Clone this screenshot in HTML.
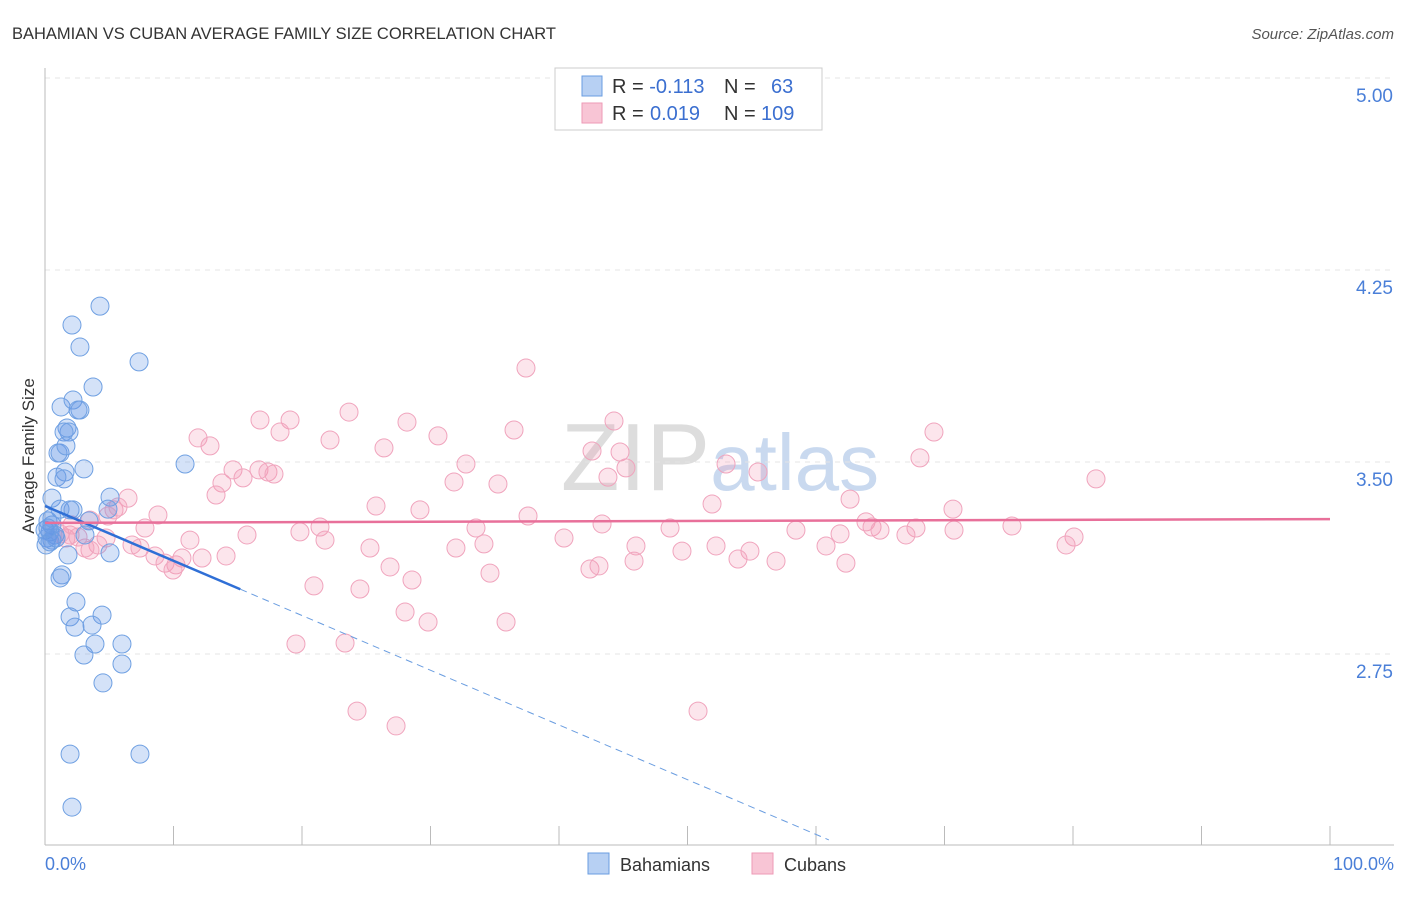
<!DOCTYPE html>
<html><head><meta charset="utf-8"><style>
body{margin:0;background:#fff;font-family:"Liberation Sans",sans-serif}
svg text{font-family:"Liberation Sans",sans-serif}
</style></head><body>
<svg width="1406" height="892" xmlns="http://www.w3.org/2000/svg">
<text x="12" y="39" font-size="16.5" fill="#333">BAHAMIAN VS CUBAN AVERAGE FAMILY SIZE CORRELATION CHART</text>
<text x="1394" y="39" font-size="15" fill="#555" font-style="italic" text-anchor="end">Source: ZipAtlas.com</text>
<text x="720" y="490" font-size="96" fill="#ddd" text-anchor="middle" font-family="Liberation Serif">ZIP<tspan fill="#c9d9ef" font-family="Liberation Sans" font-size="80">atlas</tspan></text>
<g id="grid"></g>
<g id="axes"></g>
<g id="pts"></g>
<g id="lines"></g>
<text transform="translate(34,456) rotate(-90)" font-size="17" fill="#333" text-anchor="middle">Average Family Size</text>
<text x="45" y="870" font-size="18" fill="#4a7fd8">0.0%</text>
<text x="1394" y="870" font-size="18" fill="#4a7fd8" text-anchor="end">100.0%</text>
<g>
<rect x="555" y="68" width="267" height="62" fill="#fff" stroke="#ccc"/>
<rect x="582" y="76" width="20" height="20" fill="#b7d0f3" stroke="#6a9de0"/>
<rect x="582" y="103" width="20" height="20" fill="#f8c5d5" stroke="#ee9ab6"/>
<text x="612" y="93" font-size="20" fill="#333">R = <tspan fill="#3b6fd0">-0.113</tspan><tspan x="724">N =</tspan><tspan x="771" fill="#3b6fd0">63</tspan></text>
<text x="612" y="120" font-size="20" fill="#333">R = <tspan x="650" fill="#3b6fd0">0.019</tspan><tspan x="724">N =</tspan><tspan x="761" fill="#3b6fd0">109</tspan></text>
</g>
<g>
<rect x="588" y="853" width="21" height="21" fill="#b7d0f3" stroke="#6a9de0"/>
<text x="620" y="871" font-size="18" fill="#333">Bahamians</text>
<rect x="752" y="853" width="21" height="21" fill="#f8c5d5" stroke="#ee9ab6"/>
<text x="784" y="871" font-size="18" fill="#333">Cubans</text>
</g>
</svg>
<script>
const yTicks=[5.00,4.25,3.50,2.75];
const xTickCount=10;
const bahX=[4.28,2.1,2.72,7.32,3.74,1.25,2.18,2.72,2.57,1.71,1.87,1.48,1.01,1.17,1.63,3.03,1.56,0.93,1.48,10.9,5.06,0.54,1.17,2.18,1.95,4.9,3.42,0.23,0.54,0,0.39,0.78,0.16,0.54,3.11,5.06,1.79,1.32,1.17,1.95,2.41,4.44,2.33,3.66,5.99,3.89,3.03,5.99,4.51,1.95,7.39,2.1,0.08,0.39,0.86,0.23,0.54];
const bahY=[4.109,4.035,3.949,3.891,3.793,3.715,3.742,3.703,3.703,3.633,3.617,3.617,3.535,3.535,3.563,3.473,3.461,3.441,3.434,3.492,3.363,3.359,3.316,3.313,3.313,3.316,3.27,3.27,3.254,3.234,3.227,3.215,3.203,3.195,3.215,3.145,3.137,3.059,3.047,2.895,2.953,2.902,2.855,2.863,2.789,2.789,2.746,2.711,2.637,2.359,2.359,2.152,3.176,3.188,3.203,3.242,3.281];
const cubX=[37.43,16.73,19.07,23.66,28.17,44.28,69.18,11.91,18.29,22.18,30.58,36.5,12.84,26.38,42.57,44.75,32.76,53.0,55.49,68.09,14.63,16.65,17.35,17.82,15.41,13.77,31.83,35.25,43.81,45.21,81.79,13.31,6.46,8.79,5.37,5.68,51.91,62.65,25.76,29.18,70.66,37.59,3.5,4.9,7.78,21.4,19.84,33.54,43.35,48.64,58.44,63.89,64.36,64.98,70.74,67.78,61.87,75.25,15.72,11.28,21.79,40.39,4.75,1.63,1.95,1.17,6.77,4.12,3.5,7.39,25.29,31.98,34.16,45.99,49.57,52.22,54.86,60.78,67.0,80.08,79.46,8.56,10.66,12.22,14.09,9.34,10.19,9.96,26.85,42.41,43.11,45.84,53.93,56.89,62.33,34.63,28.56,20.93,24.51,28.02,29.81,35.88,19.53,23.35,24.28,27.32,50.82,3.11,2.57,2.1];
const cubY=[3.867,3.664,3.664,3.695,3.656,3.660,3.617,3.594,3.617,3.586,3.602,3.625,3.563,3.555,3.543,3.539,3.492,3.492,3.461,3.516,3.469,3.469,3.461,3.453,3.438,3.418,3.422,3.414,3.441,3.477,3.434,3.371,3.359,3.293,3.313,3.324,3.336,3.355,3.328,3.313,3.316,3.289,3.273,3.289,3.242,3.246,3.227,3.242,3.258,3.242,3.234,3.266,3.246,3.234,3.234,3.242,3.219,3.25,3.215,3.195,3.195,3.203,3.203,3.203,3.215,3.219,3.176,3.176,3.156,3.164,3.164,3.164,3.18,3.172,3.152,3.172,3.152,3.172,3.215,3.207,3.176,3.133,3.125,3.125,3.133,3.105,3.098,3.078,3.09,3.082,3.094,3.113,3.121,3.113,3.105,3.066,3.039,3.016,3.004,2.914,2.875,2.875,2.789,2.793,2.527,2.469,2.527,3.164,3.207,3.254];
const bahTrend=[3.328,1.19];
const cubTrend=[3.262,3.277];
const bahSolidEnd=15.2;

const NS='http://www.w3.org/2000/svg';
const xs=p=>45+p*12.85;
const ys=v=>462-(v-3.5)*256;
function mk(tag,attrs,parent){const e=document.createElementNS(NS,tag);for(const k in attrs)e.setAttribute(k,attrs[k]);document.getElementById(parent).appendChild(e);return e;}
yTicks.forEach((t,i)=>{
  const l=mk('line',{x1:45,x2:1394,y1:ys(t),y2:ys(t),stroke:'#e4e4e4','stroke-dasharray':'5,5'},'grid');
  
  
  const tx=mk('text',{x:1393,y:ys(t)+24,'font-size':19,fill:'#4a7fd8','text-anchor':'end'},'grid');
  tx.textContent=t.toFixed(2);
  
  
});
const ax=mk('line',{x1:45,x2:45,y1:68,y2:845,stroke:'#bbb'},'axes');


const bx=mk('line',{x1:45,x2:1394,y1:845,y2:845,stroke:'#bbb'},'axes');


for(let i=0;i<=xTickCount;i++){
  const p=i*100/xTickCount;
  const t=mk('line',{x1:xs(p),x2:xs(p),y1:826,y2:845,stroke:'#bbb'},'axes');
  
  
}
cubX.forEach((x,i)=>{
  const c=mk('circle',{cx:xs(x),cy:ys(cubY[i]),r:9,fill:'rgba(242,150,180,0.25)',stroke:'#f0a4bd','stroke-width':1},'pts');
  
  
});
bahX.forEach((x,i)=>{
  const c=mk('circle',{cx:xs(x),cy:ys(bahY[i]),r:9,fill:'rgba(100,150,230,0.28)',stroke:'#6fa0e2','stroke-width':1},'pts');
  
  
});
const bt=v=>bahTrend[0]+(bahTrend[1]-bahTrend[0])*v/100;
const l1=mk('line',{x1:xs(0),y1:ys(bt(0)),x2:xs(bahSolidEnd),y2:ys(bt(bahSolidEnd)),stroke:'#2f6fd6','stroke-width':2.5},'lines');


const l2=mk('line',{x1:xs(bahSolidEnd),y1:ys(bt(bahSolidEnd)),x2:xs(61),y2:ys(bt(61)),stroke:'#6a9de0','stroke-width':1,'stroke-dasharray':'7,5'},'lines');


const l3=mk('line',{x1:xs(0),y1:ys(cubTrend[0]),x2:xs(100),y2:ys(cubTrend[1]),stroke:'#e8709a','stroke-width':2.5},'lines');


</script>
</body></html>
